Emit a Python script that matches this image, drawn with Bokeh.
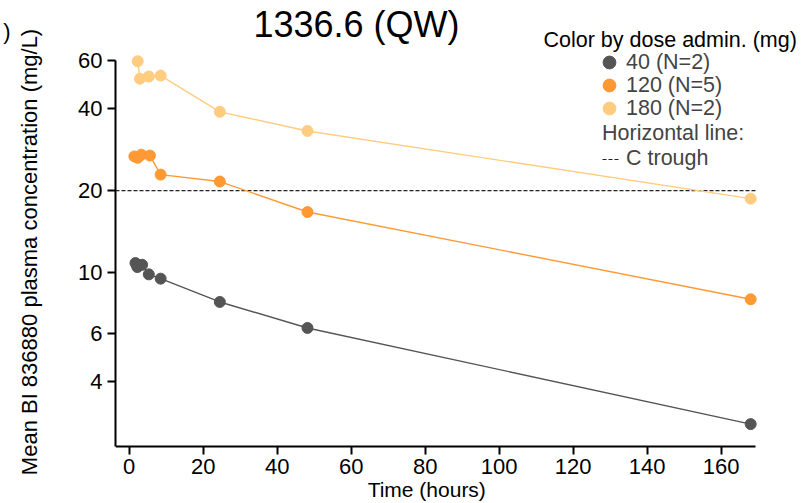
from bokeh.plotting import figure
from bokeh.models import (Range1d, FixedTicker, Label, Legend, LegendItem,
                          PrintfTickFormatter, LogAxis)
from bokeh.embed import file_html
from bokeh.resources import INLINE

# ---- data ----
time_40 = [1.7, 2.2, 3.5, 5.3, 8.5, 24.5, 48.2, 168]
conc_40 = [10.86, 10.5, 10.7, 9.87, 9.52, 7.82, 6.28, 2.79]
time_120 = [1.4, 2.3, 3.3, 5.6, 8.5, 24.5, 48.2, 168]
conc_120 = [26.7, 26.4, 27.1, 26.9, 22.9, 21.6, 16.7, 8.0]
time_180 = [2.3, 2.9, 5.3, 8.5, 24.5, 48.2, 168]
conc_180 = [59.6, 51.4, 52.4, 52.8, 38.9, 33.1, 18.7]
c_trough = [20]
dose_labels = ["40 (N=2)", "120 (N=5)", "180 (N=2)"]
dose_colors = ["#555555", "#FF9933", "#FFCC80"]
x_ticks = [0, 20, 40, 60, 80, 100, 120, 140, 160]
y_ticks = [4, 6, 10, 20, 40, 60]

FONT = "Liberation Sans"
X_LO, X_HI = -3.7, 169.3      # extent of the drawn x axis
Y_LO, Y_HI = 2.31, 60         # extent of the drawn y axis

p = figure(width=809, height=503, x_range=Range1d(X_LO, 183.9), y_range=Range1d(1.428, 99.5),
           y_axis_type="log", output_backend="svg", toolbar_location=None,
           min_border_left=115, min_border_right=0, min_border_top=0, min_border_bottom=0)
p.outline_line_color = None
p.grid.visible = False
p.background_fill_color = "white"

for ax in (p.xaxis[0], p.yaxis[0]):
    ax.axis_line_width = 2
    ax.axis_line_color = "black"
    ax.major_tick_line_width = 2
    ax.major_tick_line_color = "black"
    ax.major_tick_out = 8
    ax.major_tick_in = 0
    ax.minor_tick_out = 0
    ax.minor_tick_in = 0
    ax.major_label_text_font = FONT
    ax.major_label_text_font_size = "22px"
    ax.major_label_text_color = "black"
    ax.axis_label_text_font = FONT
    ax.axis_label_text_font_style = "normal"
    ax.axis_label_text_color = "black"

p.xaxis.ticker = FixedTicker(ticks=x_ticks, minor_ticks=[])
p.xaxis.bounds = (X_LO, X_HI)
p.xaxis.fixed_location = Y_LO
p.xaxis.axis_label = "Time (hours)" + "\u00a0" * 3
p.xaxis.axis_label_text_font_size = "21px"
p.xaxis.major_label_standoff = 5
p.xaxis.axis_label_standoff = 0

p.yaxis.ticker = FixedTicker(ticks=y_ticks, minor_ticks=[])
p.yaxis.formatter = PrintfTickFormatter(format="%d")
p.yaxis.bounds = (Y_LO, Y_HI)
p.yaxis.axis_label = "Mean BI 836880 plasma concentration (mg/L)"
p.yaxis.axis_label_text_font_size = "22px"
p.yaxis.major_label_standoff = 5
p.yaxis.axis_label_standoff = 33

# clipped fragment ")" seen at the top-left corner of the reference
paren_at = 76.5
extra = LogAxis(ticker=FixedTicker(ticks=[paren_at], minor_ticks=[]),
                major_label_overrides={paren_at: ")"},
                axis_line_color=None, major_tick_line_color=None, minor_tick_line_color=None,
                major_tick_out=0, major_tick_in=0, major_label_standoff=4,
                major_label_text_font=FONT, major_label_text_font_size="22px",
                major_label_text_color="black")
p.add_layout(extra, "left")

hl = p.segment(x0=[X_LO], x1=[X_HI], y0=c_trough, y1=c_trough,
               line_color="#222222", line_dash="4 2", line_width=1.2)

scat = []
for t, c, col in zip([time_40, time_120, time_180], [conc_40, conc_120, conc_180], dose_colors):
    p.line(t, c, line_color=col, line_width=1.4)
    scat.append(p.scatter(t, c, size=11, fill_color=col, line_color=col, marker="circle"))

for i, (lab, r) in enumerate(zip(dose_labels, scat)):
    p.add_layout(Legend(items=[LegendItem(label=lab, renderers=[r])],
                        location=(478, 425 - 23 * i), glyph_width=32, glyph_height=32,
                        label_standoff=1, padding=0, margin=0, border_line_color=None,
                        background_fill_alpha=0, label_text_font=FONT,
                        label_text_font_size="21.5px"))

legB = Legend(items=[LegendItem(label="C trough", renderers=[hl])], title="Horizontal line:",
              location=(487, 332), glyph_width=17, glyph_height=20, label_standoff=7,
              padding=0, margin=0, border_line_color=None, background_fill_alpha=0,
              title_standoff=0, title_text_font=FONT, title_text_font_size="21.5px",
              title_text_font_style="normal", label_text_font=FONT, label_text_font_size="21.5px")
p.add_layout(legB)

p.add_layout(Label(x=241, y=479, x_units="screen", y_units="screen", text="1336.6 (QW)",
                   text_align="center", text_baseline="alphabetic", text_font=FONT,
                   text_font_size="36px", text_color="black"))
p.add_layout(Label(x=428, y=463.5, x_units="screen", y_units="screen", text="Color by dose admin. (mg)",
                   text_align="left", text_baseline="alphabetic", text_font=FONT,
                   text_font_size="21.5px", text_color="black"))

open("out.html", "w").write(file_html(p, INLINE))
